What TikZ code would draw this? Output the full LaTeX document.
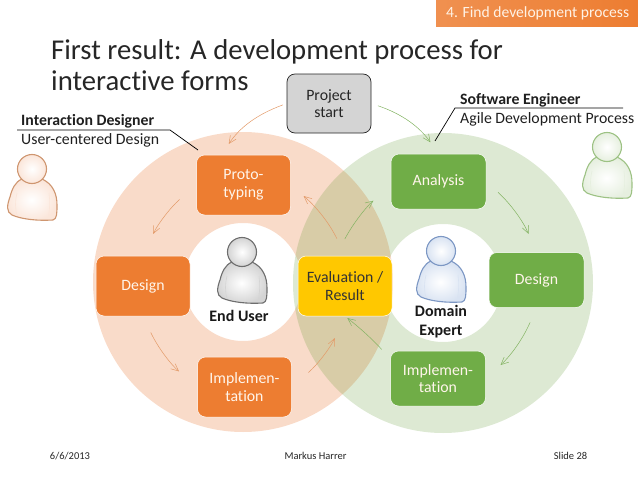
\documentclass[tikz,border=0pt]{standalone}
\usepackage{fontspec}
\setmainfont[Ligatures=NoCommon]{Carlito}
\usepackage{tikz}
\usetikzlibrary{arrows.meta,shadings}
\definecolor{orbox}{HTML}{ED7D31}
\definecolor{orring}{HTML}{F9DBC9}
\definecolor{grbox}{HTML}{70AD47}
\definecolor{grring}{RGB}{85,145,35}
\definecolor{evbox}{HTML}{FFC800}
\definecolor{orarrow}{HTML}{E39A68}
\definecolor{grarrow}{HTML}{83B362}
\definecolor{orline}{HTML}{CF9670}
\definecolor{orfill}{HTML}{FBE6DA}
\definecolor{grline}{HTML}{9DC284}
\definecolor{grfill}{HTML}{E6EFDF}
\definecolor{gyline}{HTML}{6E6E6E}
\definecolor{gyfill}{HTML}{D4D4D4}
\definecolor{blline}{HTML}{7C97C4}
\definecolor{blfill}{HTML}{D9E3F2}
\newcommand{\fsz}[2]{\fontsize{#1}{#2}\selectfont}
\tikzset{
  >={Straight Barb[length=2.6mm,width=2.4mm]},
  procbox/.style={draw=white,rounded corners=8pt,line width=0.5pt,inner sep=1pt,
    align=center,text=white!92!orange,font=\fsz{15.8}{17.5}},
  orangebox/.style={procbox,fill=orbox,minimum width=94pt,minimum height=60pt},
  greenbox/.style={procbox,fill=grbox,minimum width=95pt,minimum height=55pt},
  evalbox/.style={procbox,fill=evbox,text=black!80,minimum width=94pt,minimum height=60pt},
  startbox/.style={procbox,draw=black!85,line width=0.7pt,fill=black!17,text=black!85,
    minimum width=84pt,minimum height=59pt},
  flow/.style={->,line width=0.5pt,shorten <=#1},
  orflow/.style={flow=22pt,orarrow,shorten >=24pt},
  grflow/.style={flow=22pt,grarrow,shorten >=24pt},
  rolelbl/.style={anchor=west,inner sep=0pt,font=\fsz{15.8}{17},text=black!88},
  peoplelbl/.style={align=center,inner sep=0pt,font=\bfseries\fsz{16}{19},text=black!90},
  footlbl/.style={inner sep=0pt,font=\fsz{10.5}{12},text=black!85},
  pics/person/.style 2 args={code={
    \draw[#1,line width=1.1pt,line join=round,inner color=white,outer color=#2]
      (-10,10) .. controls (-17,13) and (-20,20) .. (-22,28)
      .. controls (-25,36) and (-26,43) .. (-20,46)
      .. controls (-11,50) and (4,52) .. (21,51)
      .. controls (25,50) and (25,44) .. (25,36)
      .. controls (25,25) and (21,15) .. (10,10) -- cycle;
    \draw[#2,line width=0.6pt] (-15,24) .. controls (-17,32) and (-17,40) .. (-15,47)
      (17,24) .. controls (18,32) and (18,40) .. (16,50);
    \draw[#1,line width=1.1pt,inner color=white,outer color=#2] (0,0) circle [radius=14.5];
  }},
}
\begin{document}
\begin{tikzpicture}[x=1pt,y=-1pt]
  \useasboundingbox (0,0) rectangle (638,479);
  % the two rings
  \fill[orring,even odd rule] (243,282) circle [radius=150] (243,282) circle [radius=59];
  \fill[grring,opacity=0.2,even odd rule] (443,283) circle [radius=150] (443,283) circle [radius=59];
  % banner and title
  \node[left color=orbox!85!white,right color=orbox,minimum width=202pt,minimum height=26pt,inner sep=0pt] (banner) at (537,13) {};
  \node[anchor=west,inner sep=0pt,font=\fsz{15.6}{16},text=white!90!orange] (bannertxt) at (446,13.5) {4. Find development process};
  \node[anchor=north west,align=left,inner sep=0pt,font=\fsz{28.7}{31.5},text=black!85] (title) at (51,39)
    {First result: A development process for\\interactive forms};
  % process boxes
  \node[startbox] (start) at (329,103.5) {Project\\start};
  \node[orangebox] (proto) at (243.5,185) {Proto-\\typing};
  \node[orangebox] (designl) at (143,286) {Design};
  \node[orangebox] (impll) at (244.5,387) {Implemen-\\tation};
  \node[evalbox] (eval) at (345,286) {Evaluation /\\Result};
  \node[greenbox] (analysis) at (438.5,181.5) {Analysis};
  \node[greenbox] (designr) at (536.5,280) {Design};
  \node[greenbox] (implr) at (438,378.5) {Implemen-\\tation};
  % arrows
  \draw[orflow,shorten <=4pt,shorten >=13pt] (start.west) to[bend right=18] ([xshift=-22pt]proto.north);
  \draw[grflow,shorten <=7pt,shorten >=14pt] (start.east) to[bend left=18] (analysis.north);
  \draw[orflow] (proto.west) to[bend right=12] (designl.north);
  \draw[orflow,shorten <=18pt] (designl.south) to[bend right=12] (impll.west);
  \draw[orflow] (impll.east) to[bend right=12] (eval.south);
  \draw[orflow,shorten <=19pt,shorten >=17pt] (eval.north) to[bend right=12] (proto.east);
  \draw[grflow,shorten <=19pt,shorten >=31pt] ([xshift=-9pt]eval.north) to[bend left=12] ([xshift=7pt]analysis.west);
  \draw[grflow,shorten <=16pt,shorten >=20pt] (analysis.east) to[bend left=12] (designr.north);
  \draw[grflow,shorten <=16pt,shorten >=20pt] (designr.south) to[bend left=12] (implr.east);
  \draw[grflow,shorten <=33pt,shorten >=3pt] ([xshift=7pt]implr.west) to[bend right=12] (eval.south);
  % role labels
  \node[rolelbl] (iddesigner) at (21,121) {\textbf{Interaction Designer}};
  \node[rolelbl] (ucdesign) at (21,140.5) {User-centered Design};
  \node[rolelbl] (swengineer) at (460,100) {\textbf{Software Engineer}};
  \node[rolelbl] (agile) at (460,119) {Agile Development Process};
  \coordinate (idfrom) at (17,130);
  \coordinate (idknee) at (170,130);
  \coordinate (idto) at (198,150);
  \coordinate (swfrom) at (623,108);
  \coordinate (swknee) at (455,108);
  \coordinate (swto) at (435,141);
  \draw[black,line width=0.7pt] (idfrom) -- (idknee) -- (idto);
  \draw[black,line width=0.7pt] (swfrom) -- (swknee) -- (swto);
  % people
  \pic at (32,169) {person={orline}{orfill}};
  \pic at (607,147) {person={grline}{grfill}};
  \pic at (242,252) {person={gyline}{gyfill}};
  \pic at (441,251) {person={blline}{blfill}};
  \node[peoplelbl] (enduser) at (239,316) {End User};
  \node[peoplelbl] (domain) at (441,321.5) {Domain\\Expert};
  % footer
  \node[footlbl] (date) at (70,456) {6/6/2013};
  \node[footlbl] (author) at (315.5,456) {Markus Harrer};
  \node[footlbl] (slideno) at (570.5,456) {Slide 28};
\end{tikzpicture}
\end{document}
